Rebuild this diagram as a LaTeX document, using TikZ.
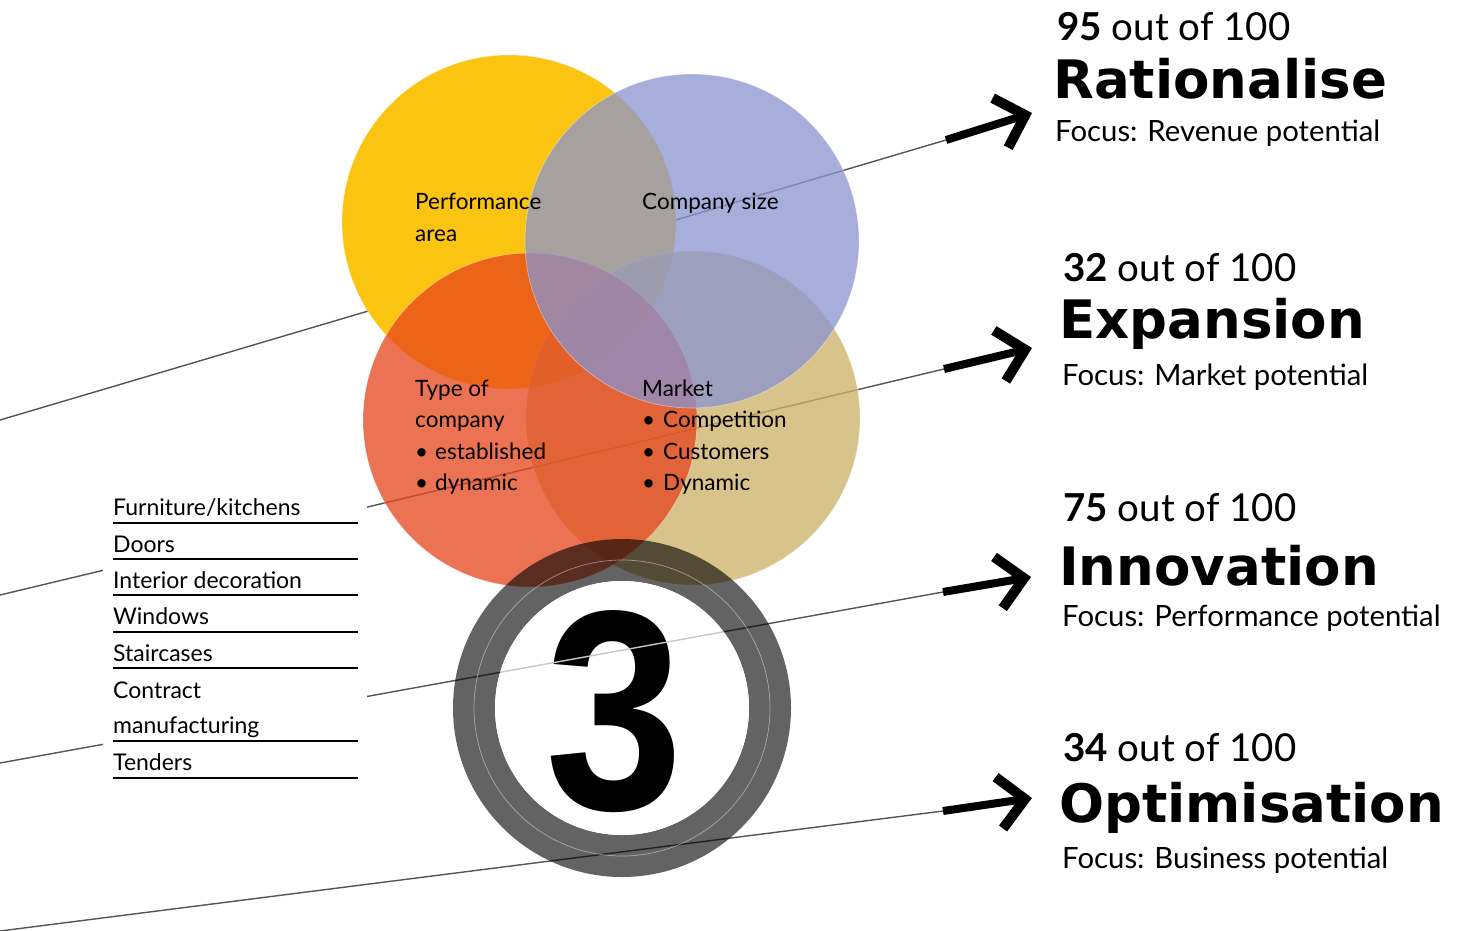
\documentclass[tikz,border=0pt]{standalone}
\usepackage{fontspec}
\setmainfont{Lato}
\newfontfamily\headfont{DejaVu Sans}
\newfontfamily\digitfont{Liberation Sans}
\usetikzlibrary{arrows.meta}
\definecolor{cyellow}{RGB}{251,196,16}
\definecolor{ctan}{RGB}{204,176,99}
\definecolor{cred}{RGB}{230,68,28}
\definecolor{cblue}{RGB}{138,148,208}
\definecolor{leadc}{RGB}{85,85,85}
\begin{document}
\begin{tikzpicture}[x=1pt,y=-1pt,
  leadline/.style={draw=leadc, line width=1.4pt},
  bigarrow/.style={draw=black, line width=8pt, -{Straight Barb[length=26pt, width=52pt, line width=10pt, sharp]}},
  disc/.style={circle, minimum size=334pt, inner sep=0pt, draw=white, draw opacity=0.45, line width=0.6pt},
  ctext/.style={anchor=base west, inner sep=0pt, font=\fontsize{22.5}{26}\selectfont},
  ltext/.style={anchor=base west, inner sep=0pt, font=\fontsize{23}{26}\selectfont},
  uline/.style={draw=black, line width=1.1pt},
  score/.style={anchor=base west, inner sep=0pt, font=\fontsize{38.5}{40}\selectfont},
  head/.style={anchor=base west, inner sep=0pt, font=\headfont\bfseries\fontsize{53}{55}\selectfont},
  focus/.style={anchor=base west, inner sep=0pt, font=\fontsize{29.3}{32}\selectfont}
]
\fill[white] (0,0) rectangle (1461,930);
\useasboundingbox (0,0) rectangle (1461,930);

% connector coordinates
\coordinate (a0) at (0,420);   \coordinate (am) at (946,140); \coordinate (at) at (1032,113);
\coordinate (b0) at (0,595);   \coordinate (bm) at (944,369); \coordinate (bt) at (1032,348);
\coordinate (c0) at (0,763);   \coordinate (cm) at (943,592); \coordinate (ct) at (1031,577);
\coordinate (d0) at (0,931);   \coordinate (dm) at (943,811); \coordinate (dt) at (1032,798);

% thin leader lines (beneath everything)
\draw[leadline] (a0) -- (am);
\draw[leadline] (b0) -- (bm);
\draw[leadline] (c0) -- (cm);
\draw[leadline] (d0) -- (dm);

% list block
\fill[white] (103,488) rectangle (367,790);
\node[ltext] (l1) at (113,515) {Furniture/kitchens};
\node[ltext] (l2) at (113,552) {Doors};
\node[ltext] (l3) at (113,588) {Interior decoration};
\node[ltext] (l4) at (113,624) {Windows};
\node[ltext] (l5) at (113,661) {Staircases};
\node[ltext] (l6) at (113,698) {Contract};
\node[ltext] (l7) at (113,733) {manufacturing};
\node[ltext] (l8) at (113,770) {Tenders};
\foreach \yy in {523,559,595,632,668,741,778}
  \draw[uline] (113,\yy) -- (358,\yy);

% circles
\node[disc, fill=cyellow] (perf) at (509,222) {};
\node[disc, fill=ctan, fill opacity=0.75] (mark) at (693,418) {};
\node[disc, fill=cred, fill opacity=0.75] (type) at (530,420) {};
\node[disc, fill=cblue, fill opacity=0.75] (size) at (692,241) {};

% circle texts
\node[ctext] (t1) at (415,209) {Performance};
\node[ctext] (t2) at (415,241) {area};
\node[ctext] (t3) at (642,209) {Company size};
\node[ctext] (t4) at (415,396) {Type of};
\node[ctext] (t5) at (415,427) {company};
\node[ctext] (t6) at (415,459) {\makebox[20pt][l]{•}established};
\node[ctext] (t7) at (415,490) {\makebox[20pt][l]{•}dynamic};
\node[ctext] (t8) at (642,396) {Market};
\node[ctext] (t9) at (642,427) {\makebox[21pt][l]{•}Competition};
\node[ctext] (t10) at (642,459) {\makebox[21pt][l]{•}Customers};
\node[ctext] (t11) at (642,490) {\makebox[21pt][l]{•}Dynamic};

% ring with the 3
\fill[black, fill opacity=0.61, even odd rule] (622,708) circle (169pt) (622,708) circle (127pt);
\fill[white] (622,708) circle (127pt);
\draw[white, draw opacity=0.45, line width=0.7pt] (622,708) circle (148pt);
\node[anchor=base, inner sep=0pt, font=\digitfont\bfseries\fontsize{285}{285}\selectfont] (three) at (614,809) {\scalebox{0.87}[1]{3}};
\begin{scope}
  \clip (622,708) circle (127pt);
  \draw[line width=1.4pt, black!22] (c0) -- (cm);
\end{scope}

% arrows
\draw[bigarrow] (am) -- (at);
\draw[bigarrow] (bm) -- (bt);
\draw[bigarrow] (cm) -- (ct);
\draw[bigarrow] (dm) -- (dt);

% right-hand texts
\node[score] (s1) at (1057,40) {\textbf{95} out of 100};
\node[head] (h1) at (1053,98) {Rationalise};
\node[focus] (f1) at (1055,141) {Focus: Revenue potential};

\node[score] (s2) at (1063,281) {\textbf{32} out of 100};
\node[head] (h2) at (1059,338) {Expansion};
\node[focus] (f2) at (1062,385) {Focus: Market potential};

\node[score] (s3) at (1063,521) {\textbf{75} out of 100};
\node[head] (h3) at (1059,585) {Innovation};
\node[focus] (f3) at (1062,626) {Focus: Performance potential};

\node[score] (s4) at (1063,761) {\textbf{34} out of 100};
\node[head] (h4) at (1059,822) {Optimisation};
\node[focus] (f4) at (1062,868) {Focus: Business potential};
\end{tikzpicture}
\end{document}
